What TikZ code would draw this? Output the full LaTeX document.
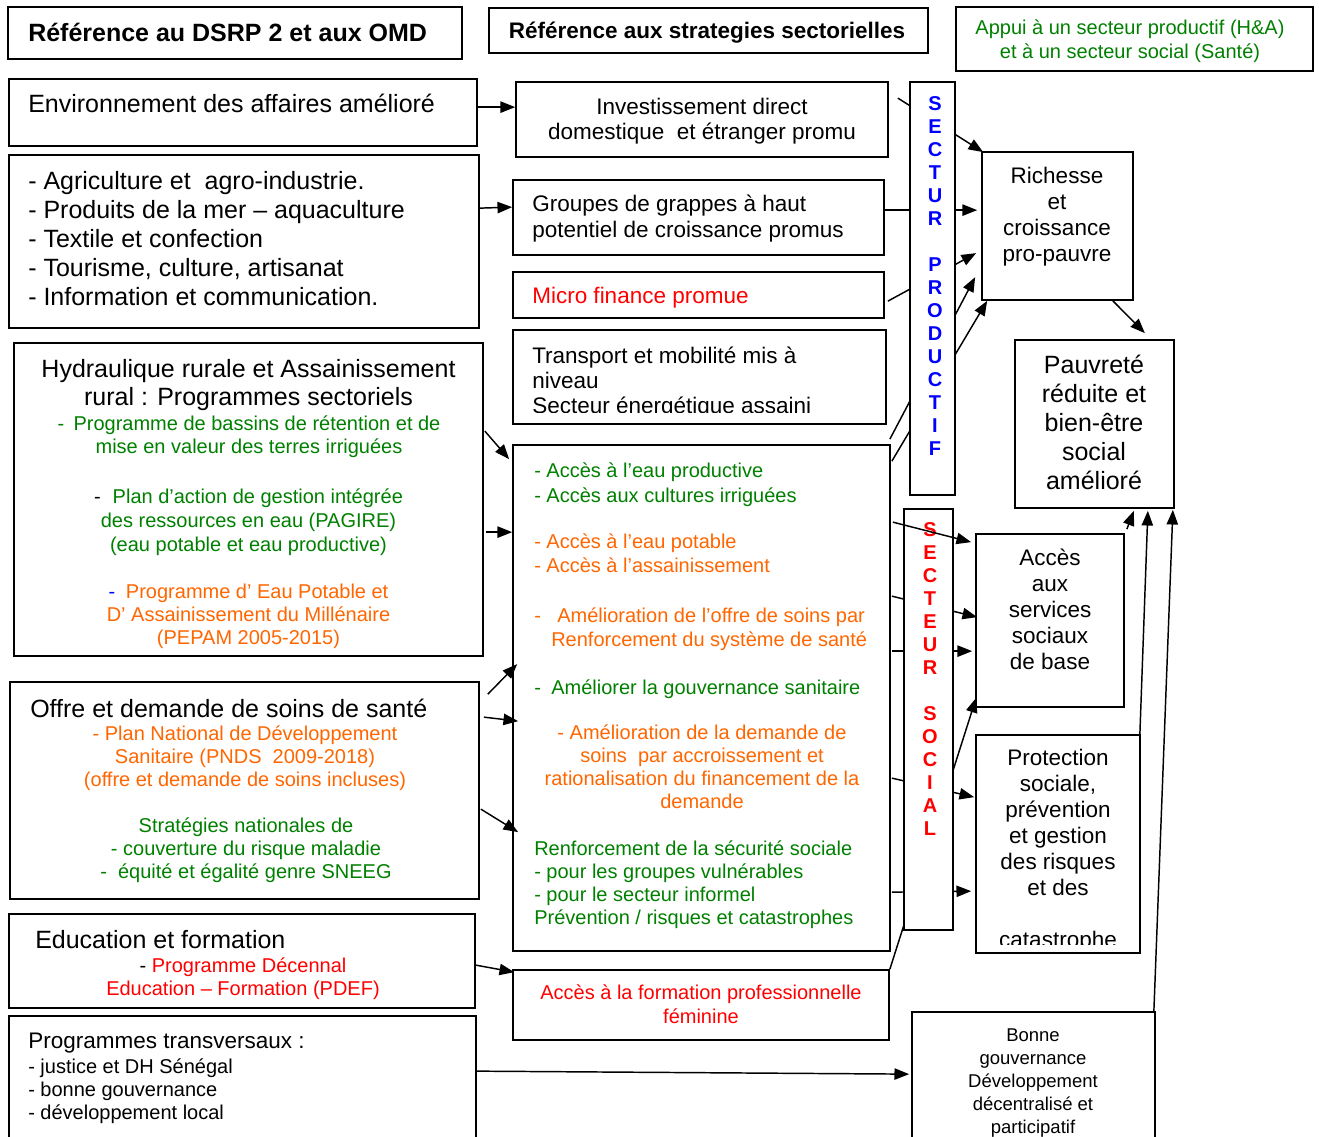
\documentclass[tikz,border=0pt]{standalone}
\usepackage{fontspec}
\setmainfont{Liberation Sans}
\usetikzlibrary{arrows.meta,fit,calc}
\definecolor{gr}{RGB}{0,128,0}
\definecolor{orng}{RGB}{255,102,0}
\definecolor{rd}{RGB}{255,0,0}
\definecolor{bl}{RGB}{0,0,255}
\newcommand\fsA{\fontsize{18.75pt}{21.75pt}\selectfont}
\newcommand\fsB{\fontsize{16.875pt}{19.5pt}\selectfont}
\newcommand\fsC{\fontsize{15pt}{17.25pt}\selectfont}
\newcommand\fsD{\fontsize{13.875pt}{17.25pt}\selectfont}
\begin{document}
\begin{tikzpicture}[x=0.75pt,y=-0.75pt,
  box/.style={draw, line width=1.3pt, inner sep=0pt, fit={#1}},
  tx/.style={inner sep=0pt, align=left, anchor=base west},
  tc/.style={inner sep=0pt, align=center, anchor=base},
  txn/.style={inner sep=0pt, align=left, anchor=north west, execute at begin node=\strut},
  tcn/.style={inner sep=0pt, align=center, anchor=north, execute at begin node=\strut},
  ln/.style={line width=1.1pt},
  ar/.style={line width=1.1pt, -{Triangle[length=11pt,width=8.5pt]}},
  barletter/.style={inner sep=0pt, align=center, anchor=north, execute at begin node=\strut, font=\bfseries\fontsize{15pt}{17.25pt}\selectfont}]
\clip (0,0) rectangle (1319,1137);
\fill[white] (0,0) rectangle (1319,1137);

% ---------- boxes ----------
\node[box={(8,7)(462,59)}] (t1) {};
\node[box={(489,8)(928,53)}] (t2) {};
\node[box={(956,7)(1313,71)}] (t3) {};
\node[box={(9,79)(477,146)}] (env) {};
\node[box={(516,82)(888,157)}] (inv) {};
\node[box={(9,155)(479,328)}] (agri) {};
\node[box={(513,180)(884,255)}] (grp) {};
\node[box={(513,272)(884,318)}] (mic) {};
\node[box={(513,330)(886,424)}] (tra) {};
\node[box={(14,343)(483,656)}] (hyd) {};
\node[box={(513,445)(890,951)}] (big) {};
\node[box={(10,682)(479,899)}] (offre) {};
\node[box={(9,914)(475,1008)}] (edu) {};
\node[box={(513,970)(889,1040)}] (form) {};
\node[box={(9,1016)(476,1150)}] (prog) {};
\node[box={(912,1012)(1155,1150)}] (bonne) {};
\node[box={(982,152)(1133,300)}] (rich) {};
\node[box={(1015,340)(1174,508)}] (pauv) {};
\node[box={(976,534)(1124,707)}] (acc) {};
\node[box={(976,735)(1140,953)}] (prot) {};

% ---------- texts ----------
\node[tx, font=\bfseries\fsA] (t1t) at (28,42) {Référence au DSRP 2 et aux OMD};
\node[tc, font=\bfseries\fsB] (t2t) at (707,39) {Référence aux strategies sectorielles};
\node[tcn, font=\fontsize{15pt}{18pt}\selectfont, text=gr] (t3t) at (1130,20) {Appui à un secteur productif (H\&A)\\et à un secteur social (Santé)};
\node[tx, font=\fsA] (envt) at (28,113) {Environnement des affaires amélioré};
\node[tcn, font=\fontsize{16.875pt}{18.75pt}\selectfont] (invt) at (702,97.5) {Investissement direct\\domestique\ \ et étranger promu};
\node[txn, font=\fsA] (agrit) at (28,170.7) {- Agriculture et\ \ agro-industrie.\\- Produits de la mer – aquaculture\\- Textile et confection\\- Tourisme, culture, artisanat\\- Information et communication.};
\node[txn, font=\fsB] (grpt) at (532,194.8) {Groupes de grappes à haut\\potentiel de croissance promus};
\node[tx, font=\fsB, text=rd] (mict) at (532,304) {Micro finance promue};
\begin{scope}
\clip (513,330) rectangle (886,412);
\node[txn, font=\fontsize{16.875pt}{18.75pt}\selectfont] (trat) at (532,346.5) {Transport et mobilité mis à\\niveau\\Secteur énergétique assaini};
\end{scope}

\node[tcn, font=\fontsize{18.75pt}{21pt}\selectfont] (hydt) at (248.5,359.4) {Hydraulique rurale et Assainissement\\rural : Programmes sectoriels};
\node[tcn, font=\fsC, text=gr] (hyd1) at (249,415.9) {-\hspace{7pt}Programme de bassins de rétention et de\\mise en valeur des terres irriguées};
\node[tcn, font=\fontsize{15pt}{18pt}\selectfont, text=gr] (hyd2) at (248.5,488.7) {{\color{black}-}\hspace{9pt}Plan d’action de gestion intégrée\\des ressources en eau (PAGIRE)\\(eau potable et eau productive)};
\node[tcn, font=\fsC, text=orng] (hyd3) at (248.5,583.4) {{\color{bl}-}\hspace{8pt}Programme d’ Eau Potable et\\D’ Assainissement du Millénaire\\(PEPAM 2005-2015)};

\node[txn, font=\fontsize{15pt}{18.75pt}\selectfont, text=gr] (b1) at (534,462.5) {- Accès à l’eau productive\\- Accès aux cultures irriguées};
\node[txn, font=\fontsize{15pt}{18pt}\selectfont, text=orng] (b2) at (534,534) {- Accès à l’eau potable\\- Accès à l’assainissement};
\node[txn, font=\fontsize{15pt}{18pt}\selectfont, text=orng] (b3) at (534,608) {\makebox[17.25pt][l]{-}Amélioration de l’offre de soins par\\\hspace*{12.75pt}Renforcement du système de santé};
\node[tx, font=\fsC, text=gr] (b4) at (534,694) {\makebox[12.75pt][l]{-}Améliorer la gouvernance sanitaire};
\node[tcn, font=\fsC, text=orng] (b5) at (702,724.5) {- Amélioration de la demande de\\soins\ \ par accroissement et\\rationalisation du financement de la\\demande};
\node[txn, font=\fsC, text=gr] (b6) at (534,840.5) {Renforcement de la sécurité sociale\\- pour les groupes vulnérables\\- pour le secteur informel\\Prévention / risques et catastrophes};

\node[tx, font=\fsA] (offt) at (30,717) {Offre et demande de soins de santé};
\node[tcn, font=\fsC, text=orng] (off1) at (245,725.5) {- Plan National de Développement\\Sanitaire (PNDS\ \ 2009-2018)\\(offre et demande de soins incluses)};
\node[tcn, font=\fsC, text=gr] (off2) at (246,817.5) {Stratégies nationales de\\- couverture du risque maladie\\-\ \ équité et égalité genre SNEEG};

\node[tx, font=\fsA] (edut) at (35,948) {Education et formation};
\node[tcn, font=\fsC, text=rd] (edu1) at (243,957.5) {{\color{black}-} Programme Décennal\\Education – Formation (PDEF)};
\node[tcn, font=\fontsize{15pt}{18pt}\selectfont, text=rd] (formt) at (701,984) {Accès à la formation professionnelle\\féminine};

\node[tx, font=\fsB] (progt) at (28,1048) {Programmes transversaux :};
\node[txn, font=\fsC] (prog1) at (28,1058) {- justice et DH Sénégal\\- bonne gouvernance\\- développement local};
\node[tcn, font=\fsD] (bonnet) at (1033,1028.5) {Bonne\\gouvernance\\Développement\\décentralisé et\\participatif};

\node[tcn, font=\fsB] (richt) at (1057,166.8) {Richesse\\et\\croissance\\pro-pauvre};
\node[tcn, font=\fsA] (pauvt) at (1094,355) {Pauvreté\\réduite et\\bien-être\\social\\amélioré};
\node[tcn, font=\fsB] (acct) at (1050,548.8) {Accès\\aux\\services\\sociaux\\de base};
\begin{scope}
\clip (976,735) rectangle (1140,944);
\node[tcn, font=\fsB] (prott) at (1058,749) {Protection\\sociale,\\prévention\\et gestion\\des risques\\et des\\[19.5pt]catastrophe};
\end{scope}

% ---------- connectors (left side) ----------
\draw[ar] ($(env.north east)+(0,29)$) -- ($(inv.north west)+(0,26)$);
\draw[ar] ($(agri.north east)+(0,54)$) -- ($(grp.north west)+(0,28)$);
\draw[ar] ($(hyd.north east)+(1,89)$) -- ($(big.north west)+(-3,15)$);
\draw[ar] ($(hyd.north east)+(2,190)$) -- ($(big.north west)+(0,88)$);
\draw[ar] ($(offre.north east)+(8,13)$) -- ($(big.north west)+(5,220)$);
\draw[ar] ($(offre.north east)+(4,36)$) -- ($(big.north west)+(6,277)$);
\draw[ar] ($(offre.north east)+(1,128)$) -- ($(big.north west)+(6,388)$);
\draw[ar] ($(edu.north east)+(0,52)$) -- ($(form.north west)+(2,3)$);
\draw[ar] ($(prog.north east)+(0,56)$) -- ($(bonne.north west)+(-2,63)$);

% ---------- connectors passing behind the bars ----------
\draw[ar] ($(inv.north east)+(9,17)$) -- ($(rich.north west)+(2,1)$);
\draw[ar] ($(grp.north east)+(0,31)$) -- ($(rich.north west)+(-4,59)$);
\draw[ar] ($(mic.north east)+(3,30)$) -- ($(rich.north west)+(-5,102)$);
\draw[ar] ($(big.north east)+(-1,-5)$) -- ($(rich.north west)+(-6,126)$);
\draw[ar] ($(big.north east)+(1,17)$) -- ($(rich.south west)+(6,0)$);
\draw[ar] ($(big.north east)+(1,152)$) -- ($(acc.north west)+(2,84)$);
\draw[ar] ($(big.north east)+(1,207)$) -- ($(acc.north west)+(-3,118)$);
\draw[ar] (form.north east) -- ($(acc.south west)+(1,-10)$);
\draw[ar] ($(big.north east)+(1,334)$) -- ($(prot.north west)+(-1,63)$);
\draw[ar] ($(big.north east)+(1,448)$) -- ($(prot.north west)+(-4,157)$);

% ---------- sector bars ----------
\node[box={(910,82)(955,495)}, fill=white] (pbar) {};
\node[box={(904,509)(953,930)}, fill=white] (sbar) {};
\node[barletter, text=bl] (pbart) at (935,95.9) {S\\E\\C\\T\\U\\R\\[17.25pt]P\\R\\O\\D\\U\\C\\T\\I\\F};
\node[barletter, text=rd] (sbart) at (930,521.9) {S\\E\\C\\T\\E\\U\\R\\[17.25pt]S\\O\\C\\I\\A\\L};

% ---------- connectors on top ----------
\draw[ar] ($(big.north east)+(2,78)$) -- ($(acc.north west)+(-4,9)$);
\draw[ar] ($(rich.south east)+(-21,0)$) -- ($(pauv.north east)+(-30,-6)$);
\draw[ar] ($(acc.north east)+(2,-4)$) -- ($(pauv.south east)+(-41,2)$);
\draw[ar] ($(prot.north east)+(-1,0)$) -- ($(pauv.south east)+(-27,2)$);
\draw[ar] ($(bonne.north east)+(-2,0)$) -- ($(pauv.south east)+(-2,1)$);
\end{tikzpicture}
\end{document}
